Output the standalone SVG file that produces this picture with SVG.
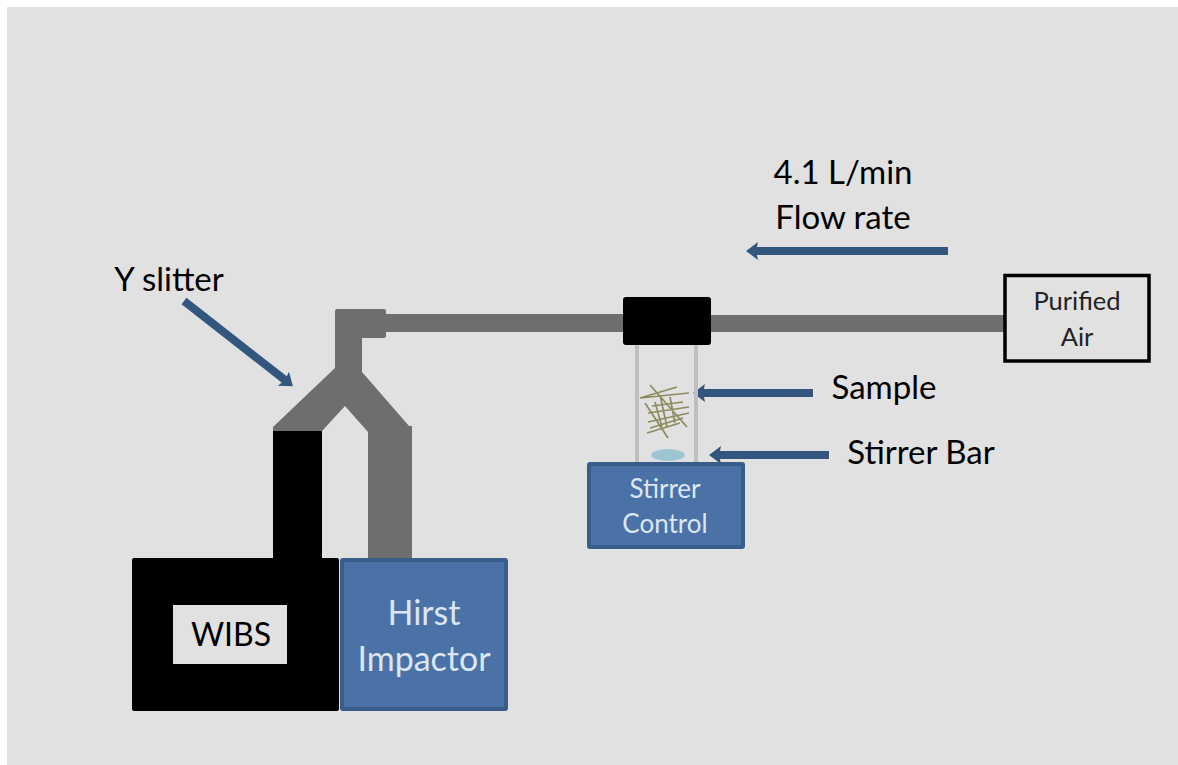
<svg xmlns="http://www.w3.org/2000/svg" width="1178" height="765" viewBox="0 0 1178 765">
<style>
text{font-family:"Lato","Noto Sans","Liberation Sans",sans-serif;text-anchor:middle}
.k{fill:#000;font-size:33px}
.w{fill:#dce6f2}
.blue{fill:#4a72a6;stroke:#385d8a;stroke-width:4}
.pipe{fill:#6e6e6e}
.arr{fill:none;stroke:#33567f;stroke-width:8;marker-end:url(#ah)}
.fib{stroke:#8f8a60;stroke-width:1.7;fill:none}
</style>
<defs>
<marker id="ah" markerUnits="userSpaceOnUse" markerWidth="14" markerHeight="22" refX="2" refY="11" orient="auto"><path d="M0 2L12 11L0 20L2 11Z" fill="#33567f"/></marker>
</defs>
<rect width="1178" height="765" fill="#fff"/>
<rect x="7" y="7" width="1171" height="758" fill="#e1e1e1"/>
<g id="connectors">
<rect class="pipe" x="380" y="314" width="250" height="18"/>
<rect class="pipe" x="705" y="315" width="305" height="17"/>
<path class="pipe" d="M337 309H384Q386 309 386 311V336Q386 338 384 338H362V372L409 426H412V560H368V432L345 406L322 431H273V427L335 368V311Q335 309 337 309Z"/>
<rect x="273" y="431" width="49" height="130" fill="#000"/>
<path class="arr" d="M948 251H756"/>
<path class="arr" d="M184 301L285 380"/>
<path class="arr" d="M813 393H703"/>
<path class="arr" d="M829 455H719"/>
</g>
<g id="vial">
<path d="M637 345V464M696 345V464" stroke="#bfbfbf" stroke-width="4" fill="none"/>
<path class="fib" d="M650 385L687 427M640 398L677 387M640 398L689 393M645 403L668 438M652 406L683 402M648 413L689 407M648 422L689 413M650 428L683 418M647 433L680 423M660 395L667 427M670 397L675 423M655 402L662 427"/>
<ellipse cx="668" cy="455" rx="17" ry="6" fill="#9fc5d3"/>
</g>
<g id="coupler"><rect x="623" y="297" width="88" height="48" rx="3" fill="#000"/></g>
<g id="purified-air">
<rect x="1005" y="275.500" width="144" height="85.500" fill="#e1e1e1" stroke="#000" stroke-width="3.500"/>
<text x="1077" y="310" font-size="25.500" fill="#222">Purified</text>
<text x="1077" y="346" font-size="25.500" fill="#222">Air</text>
</g>
<g id="stirrer-control">
<rect class="blue" x="589" y="464" width="154" height="83" rx="1"/>
<text class="w" x="665" y="498" font-size="26">Stirrer</text>
<text class="w" x="665" y="533" font-size="26">Control</text>
</g>
<g id="wibs">
<rect x="132" y="558" width="207" height="153" rx="2" fill="#000"/>
<rect x="173" y="605" width="114" height="59" fill="#e1e1e1"/>
<text x="231" y="646" font-size="32" fill="#000">WIBS</text>
</g>
<g id="hirst-impactor">
<rect class="blue" x="342" y="560" width="164" height="149" rx="1"/>
<text class="w" x="424" y="625" font-size="34">Hirst</text>
<text class="w" x="424" y="671" font-size="34">Impactor</text>
</g>
<g id="labels">
<text class="k" x="843" y="184">4.1 L/min</text>
<text class="k" x="843" y="229">Flow rate</text>
<text class="k" x="169" y="291">Y slitter</text>
<text class="k" x="884" y="399">Sample</text>
<text class="k" x="921" y="464">Stirrer Bar</text>
</g>
</svg>
